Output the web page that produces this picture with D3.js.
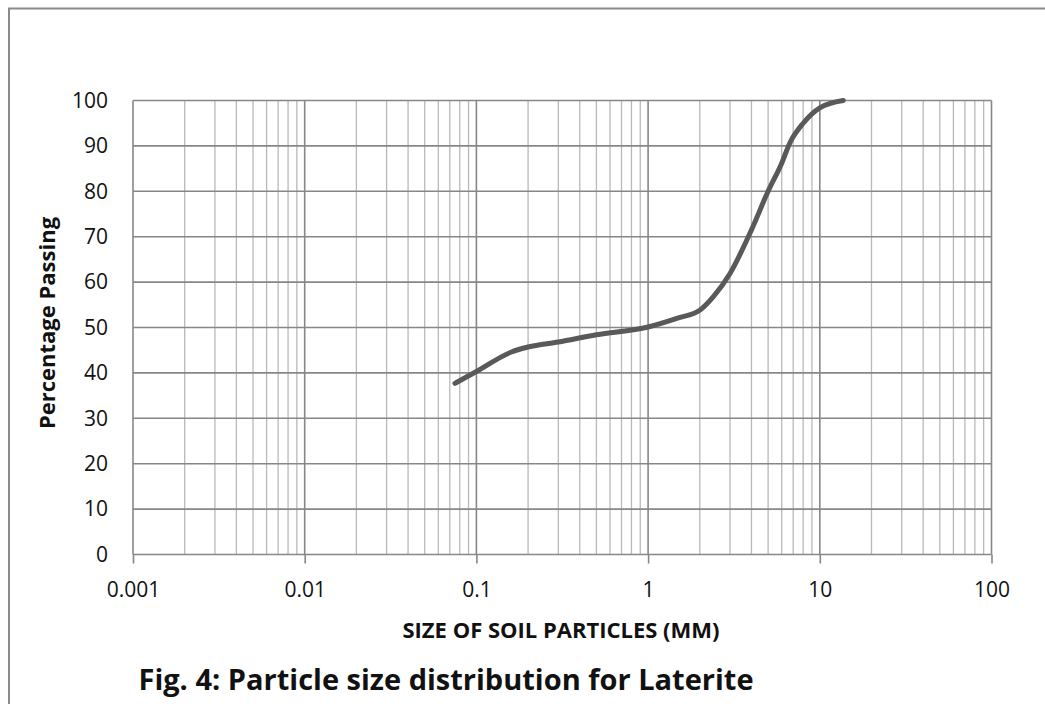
<!DOCTYPE html>
<html>
<head>
<meta charset="utf-8">
<script src="https://cdn.jsdelivr.net/npm/d3@7"></script>
<style>
  body { margin: 0; background: #fff; }
  text { font-family: 'Open Sans', 'DejaVu Sans', sans-serif; }
</style>
</head>
<body>
<svg id="chart"></svg>
<script>
// particle size (mm) vs percentage passing
const sizes = [0.075, 0.1, 0.16, 0.2, 0.3, 0.5, 1, 1.5, 2, 2.4, 3, 4, 5, 6, 6.7, 8, 10, 13.7]
const passing = [37.7, 40.3, 44.6, 45.7, 46.8, 48.4, 50.1, 52.1, 53.8, 56.8, 61.9, 71.5, 80, 86.2, 90.7, 95, 98.4, 100]
const xTicks = [0.001, 0.01, 0.1, 1, 10, 100]
const yTicks = [0, 10, 20, 30, 40, 50, 60, 70, 80, 90, 100]

const width = 1045
const height = 704
const margin = { top: 100.5, right: 53.5, bottom: 149.5, left: 133 }

const svg = d3.select('#chart')
    .attr('width', width)
    .attr('height', height)

// outer frame (only top and left show in the source)
svg.append('path')
    .attr('d', `M9,${height} V8.5 H${width}`)
    .attr('fill', 'none')
    .attr('stroke', '#8a8a8a')
    .attr('stroke-width', 2)

const x = d3.scaleLog()
    .domain([0.001, 100])
    .range([margin.left, width - margin.right])
const y = d3.scaleLinear()
    .domain([0, 100])
    .range([height - margin.bottom, margin.top])

// minor vertical grid, 2..9 in each decade
const minor = []
xTicks.slice(0, -1).forEach(d => {
    for (let k = 2; k <= 9; k++) minor.push(d * k)
})

const grid = svg.append('g')
grid.selectAll('.minor')
    .data(minor)
    .enter()
    .append('line')
    .attr('class', 'minor')
    .attr('x1', d => x(d))
    .attr('x2', d => x(d))
    .attr('y1', y(0))
    .attr('y2', y(100))
    .attr('stroke', '#b9b9b9')
    .attr('stroke-width', 1.3)

grid.selectAll('.hline')
    .data(yTicks)
    .enter()
    .append('line')
    .attr('class', 'hline')
    .attr('x1', x(0.001))
    .attr('x2', x(100))
    .attr('y1', d => y(d))
    .attr('y2', d => y(d))
    .attr('stroke', '#878787')
    .attr('stroke-width', 1.6)

grid.selectAll('.major')
    .data(xTicks)
    .enter()
    .append('line')
    .attr('class', 'major')
    .attr('x1', d => x(d))
    .attr('x2', d => x(d))
    .attr('y1', y(0))
    .attr('y2', y(100))
    .attr('stroke', '#878787')
    .attr('stroke-width', 1.6)

// x axis: ticks at decades
const xAxis = svg.append('g')
    .attr('transform', `translate(0, ${y(0)})`)
    .call(d3.axisBottom(x).tickValues(xTicks).tickFormat(d => String(d)).tickSize(9).tickPadding(19))
xAxis.select('.domain').remove()
xAxis.selectAll('line').attr('stroke', '#878787').attr('stroke-width', 1.6)
xAxis.selectAll('text').attr('font-size', 21).attr('fill', '#111')

const yAxis = svg.append('g')
    .attr('transform', `translate(${margin.left}, 0)`)
    .call(d3.axisLeft(y).tickValues(yTicks).tickSize(0).tickPadding(25))
yAxis.select('.domain').remove()
yAxis.selectAll('text').attr('font-size', 21).attr('fill', '#111')

// grading curve
const line = d3.line()
    .x((d, i) => x(sizes[i]))
    .y(d => y(d))
    .curve(d3.curveMonotoneX)

svg.append('path')
    .datum(passing)
    .attr('d', line)
    .attr('fill', 'none')
    .attr('stroke', '#595959')
    .attr('stroke-width', 5)
    .attr('stroke-linecap', 'round')

// titles
svg.append('text')
    .attr('x', 561)
    .attr('y', 638)
    .attr('text-anchor', 'middle')
    .attr('font-size', 22)
    .attr('font-weight', 'bold')
    .attr('fill', '#111')
    .text('SIZE OF SOIL PARTICLES (MM)')

svg.append('text')
    .attr('transform', `translate(55, 323) rotate(-90)`)
    .attr('text-anchor', 'middle')
    .attr('font-size', 22)
    .attr('font-weight', 'bold')
    .attr('fill', '#111')
    .text('Percentage Passing')

svg.append('text')
    .attr('x', 446)
    .attr('y', 690)
    .attr('text-anchor', 'middle')
    .attr('font-size', 29)
    .attr('font-weight', 'bold')
    .attr('fill', '#111')
    .text('Fig. 4: Particle size distribution for Laterite')
</script>
</body>
</html>
